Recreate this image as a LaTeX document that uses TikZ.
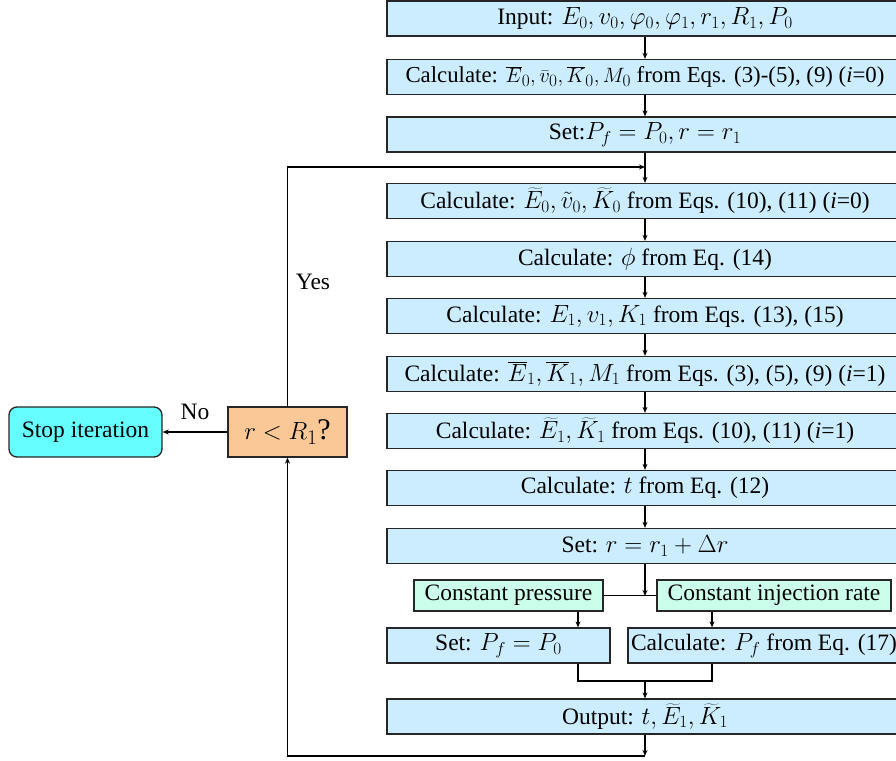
\documentclass[tikz,border=0pt]{standalone}
\usepackage{fontspec}
\setmainfont{Liberation Serif}
\usetikzlibrary{arrows.meta}
\definecolor{boxblue}{HTML}{CCECFF}
\definecolor{boxgreen}{HTML}{CCFFEB}
\definecolor{stopcyan}{HTML}{66FFFF}
\definecolor{decorange}{HTML}{FAC896}
\begin{document}
\begin{tikzpicture}[x=1pt,y=-1pt,
  base/.style={draw=black!85, line width=1.3pt, inner sep=0pt, font=\rmfamily\fontsize{23.5}{26}\selectfont},
  box/.style={base, fill=boxblue, minimum height=35pt},
  mainbox/.style={box, minimum width=516pt},
  optbox/.style={base, fill=boxgreen, minimum height=31pt},
  decbox/.style={base, fill=decorange, minimum width=119pt, minimum height=50pt, font=\rmfamily\fontsize{30}{34}\selectfont},
  stopbox/.style={base, fill=stopcyan, rounded corners=8pt, minimum width=153pt, minimum height=50pt},
  arr/.style={line width=1.2pt, -{Stealth[length=6pt,width=5pt]}},
  ln/.style={line width=1.2pt},
  lbl/.style={font=\rmfamily\fontsize{23.5}{26}\selectfont, inner sep=0pt}
]
\useasboundingbox (0,0) rectangle (896,760);

\node[mainbox] (b1) at (645,18.5) {Input: $E_0, v_0, \varphi_0, \varphi_1, r_1, R_1, P_0$};
\node[mainbox, font=\rmfamily\fontsize{22.8}{26}\selectfont] (b2) at (645,77) {Calculate: $\overline{E}_0, \bar{v}_0, \overline{K}_0, M_0$ from Eqs. (3)-(5), (9) (\textit{i}=0)};
\node[mainbox] (b3) at (645,134.5) {Set:$P_f = P_0, r = r_1$};
\node[mainbox] (b4) at (645,201) {Calculate: $\widetilde{E}_0, \tilde{v}_0, \widetilde{K}_0$ from Eqs. (10), (11) (\textit{i}=0)};
\node[mainbox] (b5) at (645,259) {Calculate: $\phi$ from Eq. (14)};
\node[mainbox] (b6) at (645,316) {Calculate: $E_1, v_1, K_1$ from Eqs. (13), (15)};
\node[mainbox] (b7) at (645,374) {Calculate: $\overline{E}_1, \overline{K}_1, M_1$ from Eqs. (3), (5), (9) (\textit{i}=1)};
\node[mainbox] (b8) at (645,431) {Calculate: $\widetilde{E}_1, \widetilde{K}_1$ from Eqs. (10), (11) (\textit{i}=1)};
\node[mainbox] (b9) at (645,488) {Calculate: $t$ from Eq. (12)};
\node[mainbox] (b10) at (645,546) {Set: $r = r_1 + \Delta r$};

\node[optbox, minimum width=189pt] (cp) at (508.5,595.5) {Constant pressure};
\node[optbox, minimum width=234pt] (ci) at (774,595.5) {Constant injection rate};

\node[box, minimum width=223pt] (sp) at (498.5,645.5) {Set: $P_f = P_0$};
\node[box, minimum width=272pt] (cf) at (764,645.5) {Calculate: $P_f$ from Eq. (17)};

\node[mainbox] (out) at (645,716.5) {Output: $t, \widetilde{E}_1, \widetilde{K}_1$};

\node[decbox] (dec) at (287.5,432) {$r < R_1$?};
\node[stopbox] (stop) at (85.5,432) {Stop iteration};

\node[lbl] (no) at (195,412) {No};
\node[lbl] (yes) at (313,282) {Yes};

\coordinate (j1) at (645,167);
\coordinate (j2) at (645,596);
\coordinate (xa) at (578,0);
\coordinate (xb) at (712,0);
\coordinate (m) at (645,681);
\coordinate (j3) at (645,756);

\draw[arr] (b1) -- (b2);
\draw[arr] (b2) -- (b3);
\draw[arr] (b3) -- (b4);
\draw[arr] (b4) -- (b5);
\draw[arr] (b5) -- (b6);
\draw[arr] (b6) -- (b7);
\draw[arr] (b7) -- (b8);
\draw[arr] (b8) -- (b9);
\draw[arr] (b9) -- (b10);
\draw[arr] (b10) -- (j2);
\draw[ln] (cp.east) -- (ci.west);
\draw[arr] (cp.south -| xa) -- (sp.north -| xa);
\draw[arr] (ci.south -| xb) -- (cf.north -| xb);
\draw[ln] (sp.south -| xa) -- (xa |- m) -- (xb |- m) -- (cf.south -| xb);
\draw[arr] (m) -- (out);
\draw[arr] (out) -- (j3);
\draw[arr] (j3) -- (j3 -| dec) -- (dec.south);
\draw[arr] (dec.north) |- (j1);
\draw[arr] (dec) -- (stop);
\end{tikzpicture}
\end{document}
